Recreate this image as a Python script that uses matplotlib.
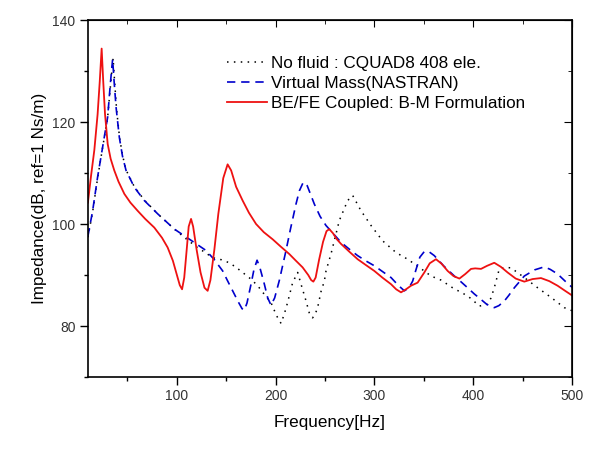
import matplotlib
matplotlib.use('Agg')
import matplotlib.pyplot as plt
from matplotlib.ticker import MultipleLocator

plt.rcParams['font.family'] = ['Liberation Sans', 'DejaVu Sans']

# No fluid : CQUAD8 408 ele.
f_nofluid = [10, 14.8, 19.8, 24.9, 30, 33, 35.5, 37, 39, 42, 45, 48.6, 57, 67.1, 80.6,
             97.5, 110, 120, 128, 136.2, 145, 153.1, 160, 166.6, 175, 181.8, 188.6,
             195.3, 201, 205.5, 209, 212.1, 217.2, 222.3, 225.7, 230.8, 234, 237.4,
             240, 242.5, 246, 249.3, 251, 256, 264.5, 272.9, 278, 286.4, 296.6, 308.3,
             321.9, 333.6, 345.4, 357.3, 367.4, 379.1, 394.3, 400, 406.2, 414.6, 418,
             421.3, 426.4, 432, 438.3, 451.7, 465.2, 478.8, 492.2, 500]
z_nofluid = [97.4, 102.4, 109, 115, 121, 127.5, 132.5, 128, 122.5, 117, 113.5, 110.6,
             107.3, 104.7, 102, 99, 97, 95.5, 94.5, 93.4, 93, 92.4, 91.5, 90.5, 89.2,
             87.9, 86.2, 84.6, 82, 80.5, 82.5, 84.6, 88.5, 90.5, 88.2, 84.9, 82.6, 81.6,
             82.3, 83.6, 86.8, 88.8, 90.8, 94.1, 100.7, 104.6, 105.6, 102.6, 99.7, 96.7,
             94.4, 93.1, 91.5, 89.8, 89.0, 87.5, 85.9, 85, 83.9, 84.3, 85.5, 87.5, 91.2,
             91.5, 91.4, 89.5, 87.5, 85.6, 83.6, 83.0]

# Virtual Mass (NASTRAN)
f_vmass = [10, 14.8, 19.8, 24.9, 30, 32.7, 35, 36.5, 38.5, 41.8, 45, 48.6, 57, 67.1, 80.6,
           97.5, 114.4, 129.6, 138, 146.4, 151, 156.5, 162, 166, 168.3, 171, 175.1, 178,
           181.2, 184, 188.6, 192, 195.3, 199, 203.7, 210.5, 215, 220.6, 224, 228, 232,
           239.2, 245, 251, 258, 266.2, 275, 283, 291, 300, 308, 316.8, 324, 330.3, 335,
           338.7, 342, 346, 350.5, 355, 360.6, 370, 380.9, 388, 394.3, 401, 407.9, 414,
           421.3, 426, 431.5, 436, 441.6, 451.7, 462, 471.9, 478, 485.4, 493, 500]
z_vmass = [97.6, 102.6, 109.2, 115.1, 121, 127.5, 132.3, 128, 122.9, 117, 113.3, 110.5,
           107.2, 104.6, 102, 99, 96.8, 94.8, 93, 90.8, 89, 86.9, 84.8, 83.4, 83.1, 84.5,
           88.2, 91, 92.9, 91.5, 88.2, 85.5, 84.1, 85.5, 88.9, 94.8, 99, 103.9, 106.5,
           108.2, 107.5, 103.9, 101.5, 99.7, 98.2, 96.4, 95, 93.8, 92.8, 91.8, 90.7, 89.5,
           88, 86.9, 87.5, 88.8, 91, 93.5, 94.6, 94.6, 93.8, 91.8, 89.8, 88.6, 87.5, 86.3,
           85.2, 84.2, 83.6, 84, 84.9, 86, 87.5, 89.8, 91, 91.6, 91.1, 90.2, 88.8, 87.6]

# BE/FE Coupled: B-M Formulation
f_befe = [10, 13.2, 16.5, 19.8, 22, 23.9, 25.5, 27.3, 30, 33, 36.7, 41, 46.9, 53, 60.3, 68,
          77.2, 85, 90.7, 96, 100.8, 103, 105.3, 107.5, 110, 112, 114.4, 116.5, 120, 124,
          128, 131.2, 134, 138, 142, 147, 151.4, 155, 160, 166.6, 173, 180.2, 188, 197,
          205, 213.9, 220, 227.3, 233, 236, 238.2, 240.5, 244, 248, 251.5, 254.3, 258,
          262, 266.2, 275, 283, 291, 299.9, 308, 316.8, 322, 326.9, 332, 337, 343.7,
          350.5, 356, 362.3, 368, 374.1, 380, 386, 392, 397.8, 402, 407.9, 414, 421.3,
          428, 434.8, 443, 451.7, 460, 468.6, 477, 485.4, 493, 500]
z_befe = [104.2, 109.5, 114.5, 121.5, 128, 134.4, 128, 121.6, 115.7, 112.8, 110.5, 108.3,
          105.9, 104.2, 102.6, 101, 99.3, 97.3, 95.4, 92.8, 89.5, 88, 87.2, 89.5, 95, 99.5,
          101, 99.5, 95, 90.5, 87.5, 86.9, 89, 95, 102, 109, 111.7, 110.5, 107.3, 104.6,
          102.2, 100, 98.4, 97.0, 95.6, 94.1, 92.9, 91.5, 90, 89, 88.7, 89.5, 93, 96.5,
          98.6, 99.0, 98.2, 97, 96.1, 94.5, 93.1, 92, 90.8, 89.5, 88.2, 87.2, 86.6, 87.2,
          87.9, 88.5, 90.5, 92.3, 93.1, 92.2, 90.8, 89.8, 89.3, 90.2, 91.2, 91.3, 91.2,
          91.8, 92.4, 91.6, 90.5, 89.3, 88.7, 89.2, 89.4, 88.8, 87.9, 86.9, 86.0]

labels = ['No fluid : CQUAD8 408 ele.', 'Virtual Mass(NASTRAN)',
          'BE/FE Coupled: B-M Formulation']

fig = plt.figure(figsize=(5.94, 4.66), dpi=100)
ax = fig.add_axes([0.148, 0.191, 0.815, 0.766])

ax.plot(f_nofluid, z_nofluid, color='black', lw=1.1, linestyle=(0, (1, 3.5)), label=labels[0])
ax.plot(f_vmass, z_vmass, color='#0000cc', lw=1.2, linestyle=(0, (5, 3.5)), label=labels[1])
ax.plot(f_befe, z_befe, color='#ee1111', lw=1.3, label=labels[2])

ax.set_xlim(10, 500)
ax.set_ylim(70, 140)
ax.xaxis.set_major_locator(MultipleLocator(100))
ax.xaxis.set_minor_locator(MultipleLocator(50))
ax.yaxis.set_major_locator(MultipleLocator(20))
ax.yaxis.set_minor_locator(MultipleLocator(10))

ax.tick_params(which='both', direction='out', top=False, right=False,
               labelsize=10, colors='black', labelcolor='#333333')
ax.tick_params(which='major', length=5.5, width=1)
ax.tick_params(which='minor', length=3, width=1)

# mirrored inward ticks on top and right
axt = ax.secondary_xaxis('top')
axt.xaxis.set_major_locator(MultipleLocator(100))
axt.xaxis.set_minor_locator(MultipleLocator(50))
axt.tick_params(which='both', direction='in', labeltop=False)
axt.tick_params(which='major', length=5)
axt.tick_params(which='minor', length=3)
axr = ax.secondary_yaxis('right')
axr.yaxis.set_major_locator(MultipleLocator(20))
axr.yaxis.set_minor_locator(MultipleLocator(10))
axr.tick_params(which='both', direction='in', labelright=False)
axr.tick_params(which='major', length=5.5)
axr.tick_params(which='minor', length=3)

for s in ax.spines.values():
    s.set_linewidth(1.2)

ax.set_xlabel('Frequency[Hz]', fontsize=12.3, labelpad=8)
ax.set_ylabel('Impedance(dB, ref=1 Ns/m)', fontsize=12.3, labelpad=4)

ax.legend(loc='upper left', bbox_to_anchor=(0.288, 0.9), frameon=False,
          fontsize=12.3, handlelength=2.3, handletextpad=0.25, labelspacing=0.3,
          borderpad=0, borderaxespad=0)

fig.savefig('out.png', dpi=100)
